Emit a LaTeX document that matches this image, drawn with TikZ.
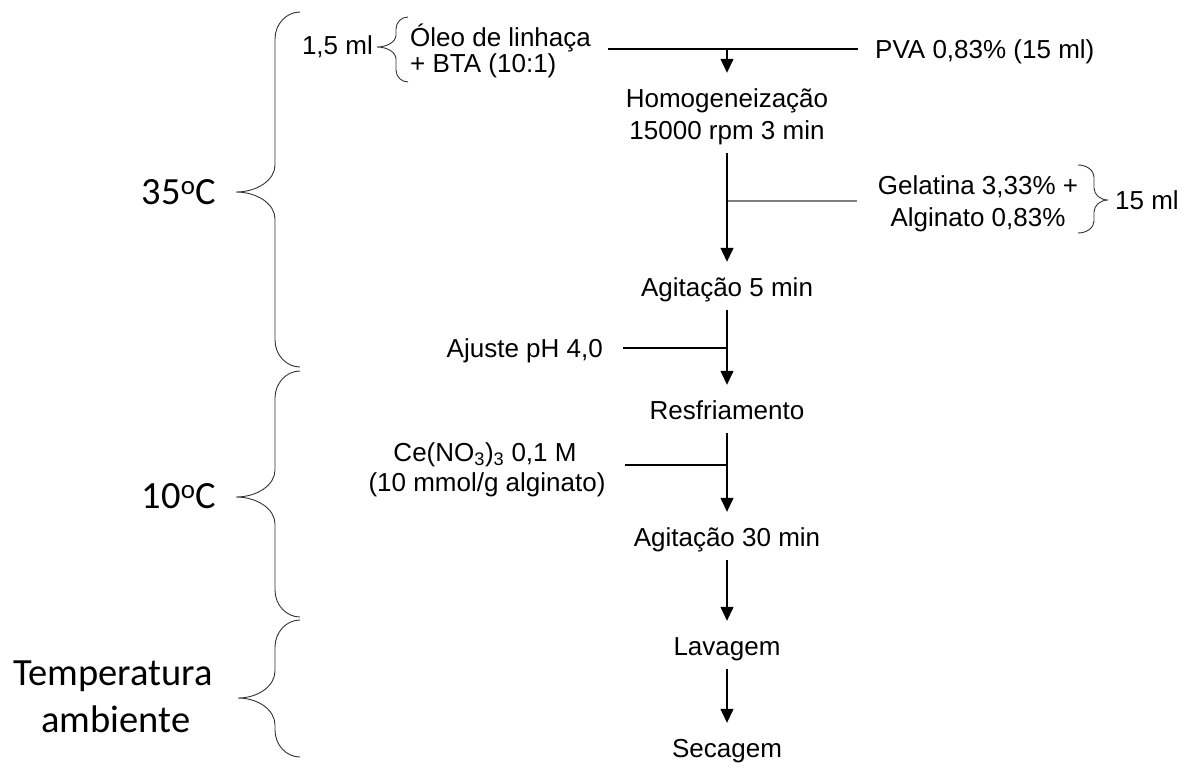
\documentclass[tikz,border=0pt]{standalone}
\usepackage{fontspec}
\setmainfont{Liberation Sans}
\newfontfamily\calibfont{Carlito}
\usetikzlibrary{arrows.meta}

% curly brace: end x, straight x, tip x, top y, tip y, bottom y, curl size
\newcommand\curlybrace[8][]{%
  \draw[bracestyle,#1] (#2,#5)
    .. controls ({#2-0.55*(#2-#3)},#5) and (#3,{#5+0.45*#8}) .. (#3,{#5+#8})
    -- (#3,{#6-#8})
    .. controls (#3,{#6-0.45*#8}) and ({#3-0.45*(#3-#4)},#6) .. (#4,#6)
    .. controls ({#3-0.45*(#3-#4)},#6) and (#3,{#6+0.45*#8}) .. (#3,{#6+#8})
    -- (#3,{#7-#8})
    .. controls (#3,{#7-0.45*#8}) and ({#2-0.55*(#2-#3)},#7) .. (#2,#7);}

\begin{document}
\begin{tikzpicture}[x=1pt,y=-1pt,
  txt/.style={font=\fontsize{26}{32}\selectfont, inner sep=0pt,
              text height=19pt, text depth=6pt},
  templabel/.style={font=\calibfont\fontsize{38.5}{46}\selectfont, inner sep=0pt},
  flow/.style={line width=1.3pt, -{Triangle[width=13pt,length=14pt]},
               shorten <=8pt, shorten >=15pt},
  feed/.style={line width=1.2pt},
  greyfeed/.style={line width=1.2pt, draw=black!50},
  bracestyle/.style={line width=0.9pt, draw=black!80}]
\useasboundingbox (0,0) rectangle (1190,769);

% main sequence of steps
\node[txt, anchor=base] (homA) at (727,107) {Homogeneização};
\node[txt, anchor=base] (homB) at (727,139) {15000 rpm 3 min};
\node[txt, anchor=base] (agit5) at (727,296) {Agitação 5 min};
\node[txt, anchor=base] (resfr) at (727,419) {Resfriamento};
\node[txt, anchor=base] (agit30) at (727,546) {Agitação 30 min};
\node[txt, anchor=base] (lav) at (727,655) {Lavagem};
\node[txt, anchor=base] (sec) at (727,757) {Secagem};

% inputs
\node[txt, anchor=base west] (oleoA) at (410,46) {Óleo de linhaça};
\node[txt, anchor=base west] (oleoB) at (410,72) {+ BTA (10:1)};
\node[txt, anchor=base east] (vol1) at (373,54) {1,5 ml};
\node[txt, anchor=base west] (pva) at (875,58) {PVA 0,83\% (15 ml)};
\node[txt, anchor=base] (gelA) at (978,194) {Gelatina 3,33\% +};
\node[txt, anchor=base] (gelB) at (978,226) {Alginato 0,83\%};
\node[txt, anchor=base west] (vol2) at (1115,209) {15 ml};
\node[txt, anchor=base east] (ajuste) at (603,357) {Ajuste pH 4,0};
\node[txt, anchor=base] (ceA) at (485,461) {Ce(NO\textsubscript{3})\textsubscript{3} 0,1 M};
\node[txt, anchor=base] (ceB) at (487,491) {(10 mmol/g alginato)};

% temperature ranges
\node[templabel, anchor=base] (t35) at (179,204) {35\textsuperscript{o}C};
\node[templabel, anchor=base] (t10) at (179,508) {10\textsuperscript{o}C};
\node[templabel, anchor=base] (tampA) at (113,685) {Temperatura};
\node[templabel, anchor=base] (tampB) at (116,732) {ambiente};

% junction points on the main line
\coordinate (topL) at (608,49);
\coordinate (mix) at (727,49);
\coordinate (topR) at (858,49);
\coordinate (jGel) at (727,201);
\coordinate (gelEnd) at (857,201);
\coordinate (jpH) at (727,348);
\coordinate (pHEnd) at (623,348);
\coordinate (jCe) at (727,465);
\coordinate (ceEnd) at (625,465);

% feed lines
\draw[feed] (topL) -- (topR);
\draw[greyfeed] (jGel) -- (gelEnd);
\draw[feed] (pHEnd) -- (jpH);
\draw[feed] (ceEnd) -- (jCe);

% flow arrows
\draw[flow, shorten <=0pt, shorten >=15pt] (mix) -- (homA);
\draw[flow] (homB) -- (agit5);
\draw[flow] (agit5) -- (resfr);
\draw[flow] (resfr) -- (agit30);
\draw[flow] (agit30) -- (lav);
\draw[flow] (lav) -- (sec);

% braces
\curlybrace{408}{396}{377}{17}{47}{82}{12}
\curlybrace{1078}{1094}{1108}{165}{200}{233}{12}
\curlybrace{300}{275}{236}{12}{192}{367}{27}
\curlybrace{300}{275}{236}{371}{497}{617}{27}
\curlybrace{300}{275}{238}{620}{698}{757}{27}
\end{tikzpicture}
\end{document}
